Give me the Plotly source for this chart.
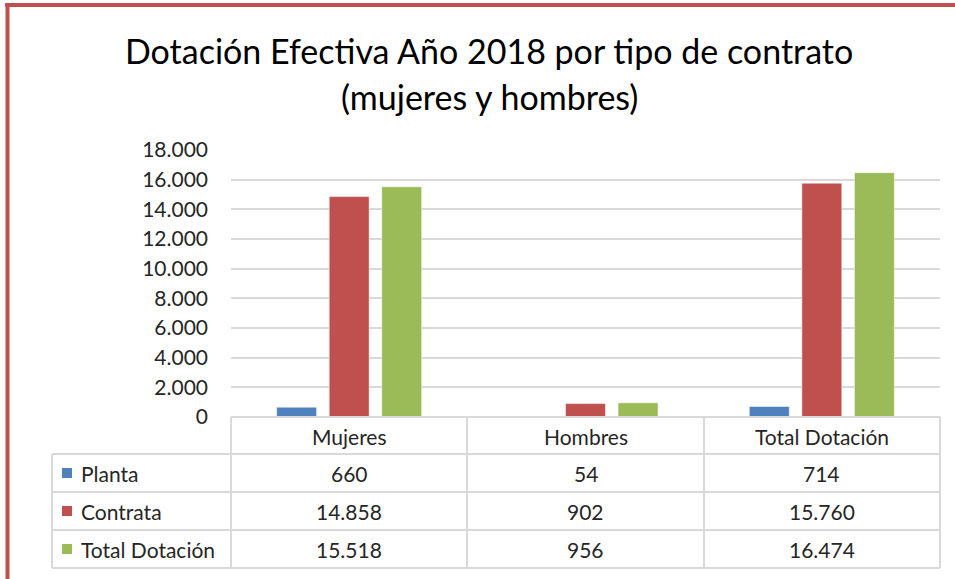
import plotly.graph_objects as go

categories = ["Mujeres", "Hombres", "Total Dotación"]
series_names = ["Planta", "Contrata", "Total Dotación"]
planta = [660, 54, 714]
contrata = [14858, 902, 15760]
total = [15518, 956, 16474]
y_ticks = [0, 2000, 4000, 6000, 8000, 10000, 12000, 14000, 16000, 18000]
title_lines = ["Dotación Efectiva Año 2018 por tipo de contrato", "(mujeres y hombres)"]

series_values = [planta, contrata, total]
colors = ["#4f81bd", "#c0504d", "#9bbb59"]

W, H = 955, 579
L, R, T, B = 231, 15, 150, 162
PW = W - L - R
PH = H - T - B
FONT = "Lato"
TXT = "#262626"
GRID = "#d9d9d9"
FS = 21


def px(x):
    return (x - L) / PW


def py(y):
    return (H - B - y) / PH


def fmt(v):
    return f"{v:,}".replace(",", ".")


fig = go.Figure()
for name, vals, col in zip(series_names, series_values, colors):
    fig.add_trace(go.Bar(x=categories, y=vals, name=name, marker_color=col,
                         marker_line_color="white", marker_line_width=0.5))

shapes = []
annotations = []

# table grid lines
line = dict(color=GRID, width=2)
rows_y = [417, 454, 492, 530, 568]
for i, y in enumerate(rows_y):
    x0 = 231 if i == 0 else 52
    shapes.append(dict(type="line", xref="paper", yref="paper", x0=px(x0), x1=px(940),
                       y0=py(y), y1=py(y), line=line))
for x in [231, 467, 704, 940]:
    shapes.append(dict(type="line", xref="paper", yref="paper", x0=px(x), x1=px(x),
                       y0=py(417), y1=py(568), line=line))
shapes.append(dict(type="line", xref="paper", yref="paper", x0=px(52), x1=px(52),
                   y0=py(454), y1=py(568), line=line))

# header
for c in categories:
    annotations.append(dict(x=c, xref="x", y=py(436), yref="paper", text=c, showarrow=False,
                            yanchor="middle", font=dict(family=FONT, size=FS, color=TXT)))

row_centers = [473, 511, 549]
for rc, name, vals, col in zip(row_centers, series_names, series_values, colors):
    shapes.append(dict(type="rect", xref="paper", yref="paper", x0=px(62), x1=px(72),
                       y0=py(rc - 5), y1=py(rc + 5), fillcolor=col, line=dict(width=0)))
    annotations.append(dict(x=px(79), xref="paper", y=py(rc), yref="paper", text=name,
                            xanchor="left", yanchor="middle", showarrow=False,
                            font=dict(family=FONT, size=FS, color=TXT)))
    for c, v in zip(categories, vals):
        annotations.append(dict(x=c, xref="x", y=py(rc), yref="paper", text=fmt(v),
                                yanchor="middle", showarrow=False,
                                font=dict(family=FONT, size=FS, color=TXT)))

# title
for t, yc in zip(title_lines, [50, 97]):
    annotations.append(dict(x=px(489), xref="paper", y=py(yc), yref="paper", text=t,
                            xanchor="center", yanchor="middle", showarrow=False,
                            font=dict(family=FONT, size=34, color="#000000")))

# red frame
shapes.append(dict(type="line", xref="paper", yref="paper", x0=px(7.5), x1=px(7.5),
                   y0=py(3), y1=py(579), line=dict(color="#c0504d", width=4)))
shapes.append(dict(type="line", xref="paper", yref="paper", x0=px(5), x1=px(955),
                   y0=py(5), y1=py(5), line=dict(color="#c0504d", width=4)))

fig.update_layout(
    width=W, height=H,
    margin=dict(l=L, r=R, t=T, b=B),
    paper_bgcolor="white", plot_bgcolor="white",
    separators=",.",
    showlegend=False,
    barmode="group", bargap=0.333, bargroupgap=0.24,
    font=dict(family=FONT, color=TXT),
    shapes=shapes,
    annotations=annotations,
)
fig.update_xaxes(showticklabels=False, showgrid=False, zeroline=False, showline=False)
fig.update_yaxes(range=[0, 18000], tickvals=y_ticks, tickformat=",d", showgrid=True,
                 gridcolor=GRID, gridwidth=2, zeroline=False, showline=False,
                 ticklabelstandoff=22, tickfont=dict(family=FONT, size=FS, color=TXT))

fig.write_html("out.html", config={"displayModeBar": False},
               post_script="document.body.style.margin='0';")
